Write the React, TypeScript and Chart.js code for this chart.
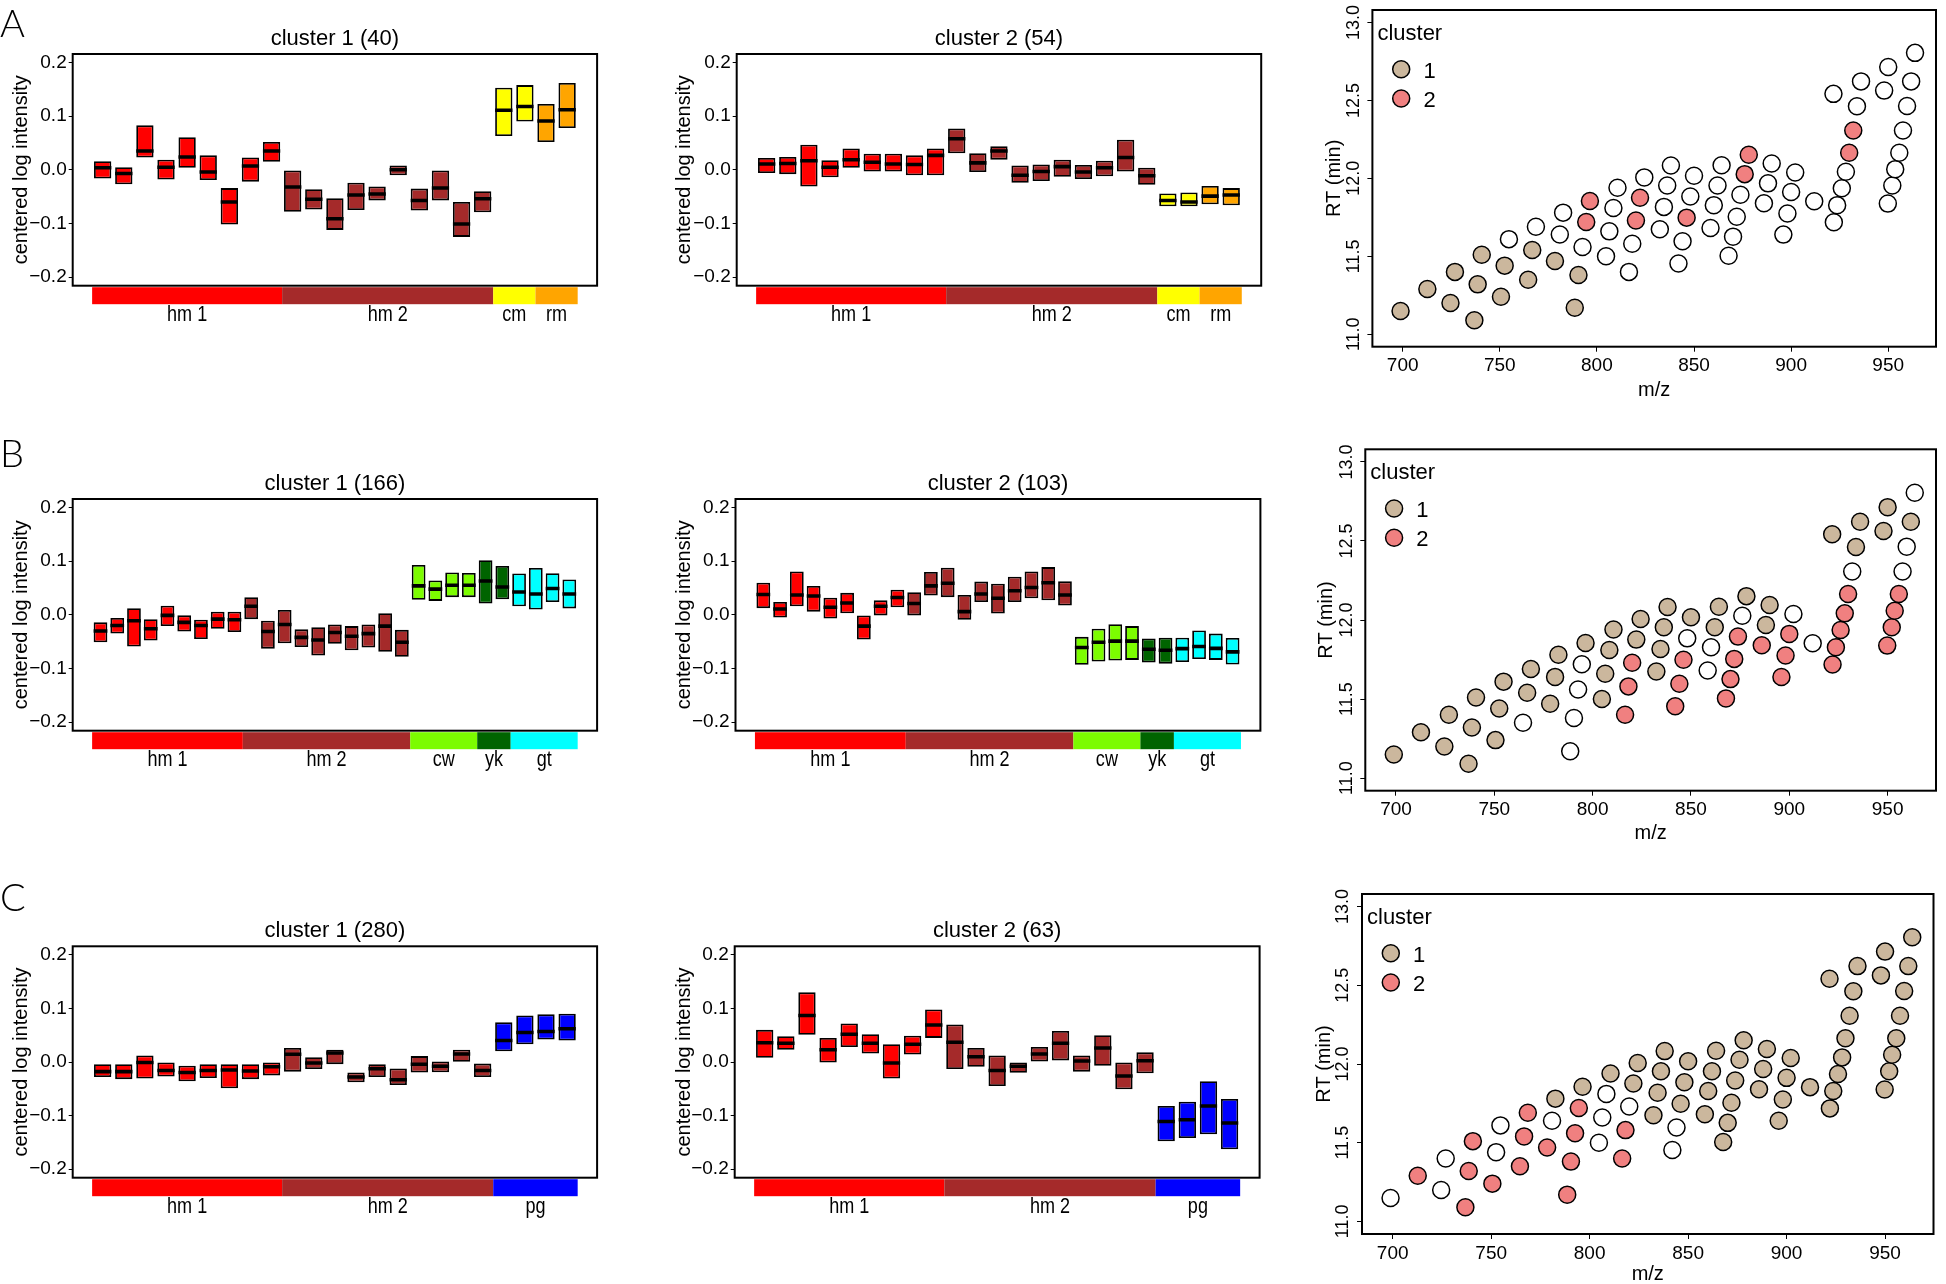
import React, { useEffect, useRef } from 'react';
import { Chart, registerables } from 'chart.js';

Chart.register(...registerables);

const FONT = '"Liberation Sans", Arial, Helvetica, sans-serif';
Chart.defaults.font.family = FONT;
Chart.defaults.color = '#000';

// ---------------- box-plot panels ----------------
const INTENSITY_TICKS = [-0.2, -0.1, 0, 0.1, 0.2];
const INTENSITY_MIN = -0.216;
const INTENSITY_MAX = 0.216;

const GROUPS_A = ['hm 1', 'hm 2', 'cm', 'rm'];
const SIZES_A = [9, 10, 2, 2];
const GROUPS_B = ['hm 1', 'hm 2', 'cw', 'yk', 'gt'];
const SIZES_B = [9, 10, 4, 2, 4];
const GROUPS_C = ['hm 1', 'hm 2', 'pg'];
const SIZES_C = [9, 10, 4];

const GROUP_COLORS: Record<string, string> = {
  'hm 1': '#FF0000',
  'hm 2': '#A52A2A',
  cm: '#FFFF00',
  rm: '#FFA500',
  cw: '#7CFC00',
  yk: '#006400',
  gt: '#00FFFF',
  pg: '#0000FF',
};

// A: cluster 1 (40)
const A1_Q3 = [0.016, 0.005, 0.083, 0.019, 0.061, 0.027, -0.034, 0.023, 0.052, -0.001, -0.036, -0.053, -0.024, -0.031, 0.008, -0.035, -0.001, -0.060, -0.040, 0.153, 0.158, 0.123, 0.162];
const A1_MED = [0.004, -0.007, 0.035, 0.005, 0.024, -0.004, -0.060, 0.007, 0.035, -0.032, -0.055, -0.091, -0.047, -0.045, 0.000, -0.057, -0.034, -0.101, -0.054, 0.111, 0.118, 0.091, 0.112];
const A1_Q1 = [-0.016, -0.027, 0.023, -0.018, 0.004, -0.019, -0.102, -0.022, 0.015, -0.078, -0.074, -0.112, -0.075, -0.057, -0.010, -0.076, -0.057, -0.125, -0.079, 0.063, 0.090, 0.052, 0.078];
// A: cluster 2 (54)
const A2_Q3 = [0.022, 0.024, 0.047, 0.018, 0.040, 0.030, 0.030, 0.027, 0.040, 0.077, 0.031, 0.044, 0.008, 0.010, 0.019, 0.009, 0.017, 0.056, 0.004, -0.044, -0.042, -0.030, -0.034];
const A2_MED = [0.011, 0.012, 0.017, 0.005, 0.019, 0.014, 0.011, 0.010, 0.027, 0.058, 0.013, 0.035, -0.010, -0.003, 0.006, -0.004, 0.004, 0.023, -0.011, -0.057, -0.060, -0.049, -0.047];
const A2_Q1 = [-0.006, -0.008, -0.031, -0.014, 0.004, -0.003, -0.003, -0.010, -0.010, 0.031, -0.004, 0.019, -0.024, -0.021, -0.013, -0.017, -0.012, -0.003, -0.028, -0.068, -0.068, -0.064, -0.066];
// B: cluster 1 (166)
const B1_Q3 = [-0.014, -0.006, 0.0125, -0.008, 0.017, 0.000, -0.009, 0.006, 0.006, 0.033, -0.011, 0.009, -0.027, -0.023, -0.018, -0.021, -0.018, 0.003, -0.028, 0.093, 0.064, 0.079, 0.078, 0.102, 0.091, 0.077, 0.0875, 0.0775, 0.066];
const B1_MED = [-0.030, -0.020, -0.011, -0.026, -0.001, -0.014, -0.020, -0.008, -0.009, 0.016, -0.031, -0.018, -0.042, -0.047, -0.033, -0.040, -0.035, -0.021, -0.051, 0.054, 0.048, 0.055, 0.055, 0.063, 0.052, 0.0425, 0.039, 0.049, 0.039];
const B1_Q1 = [-0.051, -0.035, -0.059, -0.048, -0.021, -0.031, -0.045, -0.026, -0.032, -0.008, -0.063, -0.053, -0.060, -0.076, -0.054, -0.066, -0.061, -0.069, -0.078, 0.028, 0.026, 0.033, 0.033, 0.021, 0.029, 0.016, 0.010, 0.024, 0.012];
// B: cluster 2 (103)
const B2_Q3 = [0.060, 0.024, 0.081, 0.054, 0.032, 0.041, -0.001, 0.027, 0.047, 0.042, 0.080, 0.088, 0.037, 0.062, 0.058, 0.071, 0.081, 0.089, 0.0625, -0.041, -0.026, -0.0175, -0.021, -0.044, -0.0425, -0.0425, -0.029, -0.035, -0.043];
const B2_MED = [0.038, 0.011, 0.037, 0.035, 0.014, 0.022, -0.021, 0.016, 0.0325, 0.021, 0.054, 0.059, 0.006, 0.039, 0.031, 0.045, 0.051, 0.060, 0.037, -0.061, -0.051, -0.049, -0.049, -0.064, -0.066, -0.063, -0.059, -0.0625, -0.069];
const B2_Q1 = [0.0125, -0.005, 0.016, 0.006, -0.007, 0.003, -0.046, -0.001, 0.014, -0.001, 0.036, 0.033, -0.009, 0.024, 0.0025, 0.024, 0.031, 0.027, 0.0175, -0.093, -0.087, -0.085, -0.084, -0.089, -0.091, -0.088, -0.0825, -0.084, -0.0925];
// C: cluster 1 (280)
const C1_Q3 = [-0.004, -0.004, 0.012, 0.000, -0.007, -0.004, -0.004, -0.004, -0.001, 0.026, 0.009, 0.023, -0.0195, -0.004, -0.012, 0.011, 0.001, 0.023, -0.003, 0.074, 0.087, 0.089, 0.090];
const C1_MED = [-0.018, -0.018, -0.001, -0.016, -0.0195, -0.016, -0.015, -0.017, -0.009, 0.0145, -0.002, 0.017, -0.028, -0.0126, -0.033, -0.0044, -0.008, 0.015, -0.016, 0.040, 0.055, 0.057, 0.062];
const C1_Q1 = [-0.028, -0.032, -0.031, -0.027, -0.036, -0.030, -0.049, -0.032, -0.025, -0.018, -0.013, -0.004, -0.038, -0.028, -0.043, -0.0195, -0.019, 0.0006, -0.028, 0.020, 0.033, 0.042, 0.040];
// C: cluster 2 (63)
const C2_Q3 = [0.060, 0.048, 0.130, 0.045, 0.072, 0.052, 0.033, 0.049, 0.098, 0.070, 0.026, 0.012, 0.000, 0.028, 0.058, 0.012, 0.050, 0.000, 0.018, -0.082, -0.074, -0.036, -0.069];
const C2_MED = [0.036, 0.035, 0.087, 0.023, 0.052, 0.035, -0.002, 0.033, 0.069, 0.037, 0.010, -0.016, -0.008, 0.015, 0.035, 0.002, 0.026, -0.026, 0.0025, -0.111, -0.108, -0.082, -0.114];
const C2_Q1 = [0.008, 0.023, 0.051, -0.001, 0.028, 0.016, -0.031, 0.014, 0.045, -0.013, -0.009, -0.045, -0.020, 0.001, 0.003, -0.018, -0.007, -0.051, -0.021, -0.148, -0.142, -0.135, -0.163];

// ---------------- scatter panels (m/z vs RT) ----------------
const MZ = [698.9, 712.7, 726.9, 724.6, 736.9, 738.6, 740.7, 750.6, 752.5, 754.7, 764.6, 766.7, 768.6, 778.4, 780.9, 782.6, 790.5, 788.6, 792.6, 794.5, 796.4, 804.7, 806.4, 808.5, 810.6, 816.5, 818.2, 820.1, 822.2, 824.4, 832.4, 834.5, 836.2, 838.1, 842.0, 844.1, 846.2, 848.1, 850.0, 858.5, 860.2, 862.1, 864.2, 867.8, 870.1, 872.0, 873.9, 876.1, 878.2, 886.0, 888.1, 890.0, 896.0, 898.1, 900.0, 902.1, 911.9, 922.0, 923.7, 926.1, 928.2, 929.9, 932.0, 933.9, 936.0, 921.8, 947.9, 950.0, 949.8, 952.1, 953.6, 955.7, 957.6, 959.7, 961.8, 963.8];
const RT = [11.149, 11.29, 11.40, 11.20, 11.09, 11.32, 11.51, 11.24, 11.44, 11.61, 11.35, 11.54, 11.69, 11.47, 11.64, 11.78, 11.38, 11.17, 11.56, 11.72, 11.855, 11.50, 11.66, 11.81, 11.94, 11.40, 11.58, 11.73, 11.876, 12.006, 11.674, 11.817, 11.954, 12.082, 11.454, 11.597, 11.748, 11.884, 12.017, 11.681, 11.828, 11.954, 12.084, 11.504, 11.626, 11.754, 11.895, 12.027, 12.151, 11.840, 11.968, 12.095, 11.639, 11.775, 11.912, 12.038, 11.853, 11.718, 11.828, 11.937, 12.042, 12.164, 12.307, 12.462, 12.622, 12.542, 12.563, 12.714, 11.838, 11.954, 12.059, 12.164, 12.307, 12.464, 12.622, 12.805];
// cluster membership per point (0 = not in a cluster)
const CLUSTER_A = [1, 1, 1, 1, 1, 1, 1, 1, 1, 0, 1, 1, 0, 1, 0, 0, 1, 1, 0, 2, 2, 0, 0, 0, 0, 0, 0, 2, 2, 0, 0, 0, 0, 0, 0, 0, 2, 0, 0, 0, 0, 0, 0, 0, 0, 0, 0, 2, 2, 0, 0, 0, 0, 0, 0, 0, 0, 0, 0, 0, 0, 2, 2, 0, 0, 0, 0, 0, 0, 0, 0, 0, 0, 0, 0, 0];
const CLUSTER_B = [1, 1, 1, 1, 1, 1, 1, 1, 1, 1, 0, 1, 1, 1, 1, 1, 0, 0, 0, 0, 1, 1, 1, 1, 1, 2, 2, 2, 1, 1, 1, 1, 1, 1, 2, 2, 2, 0, 1, 0, 0, 1, 1, 2, 2, 2, 2, 0, 1, 2, 1, 1, 2, 2, 2, 0, 0, 2, 2, 2, 2, 2, 0, 1, 1, 1, 1, 1, 2, 2, 2, 2, 0, 0, 1, 0];
const CLUSTER_C = [0, 2, 0, 0, 2, 2, 2, 2, 0, 0, 2, 2, 2, 2, 0, 1, 2, 2, 2, 2, 1, 0, 0, 0, 1, 2, 2, 0, 1, 1, 1, 1, 1, 1, 0, 0, 1, 1, 1, 1, 1, 1, 1, 1, 1, 1, 1, 1, 1, 1, 1, 1, 1, 1, 1, 1, 1, 1, 1, 1, 1, 1, 1, 1, 1, 1, 1, 1, 1, 1, 1, 1, 1, 1, 1, 1];

const MZ_TICKS = [700, 750, 800, 850, 900, 950];
const RT_TICKS = [11.0, 11.5, 12.0, 12.5, 13.0];
const MZ_MIN = 684.4;
const MZ_MAX = 974.6;
const RT_MIN = 10.92;
const RT_MAX = 13.08;

const LEGEND_TITLE = 'cluster';
const LEGEND_LABELS = ['1', '2'];
const CLUSTER_COLORS = ['#FFFFFF', '#CBB79D', '#F08080'];

// ---------------- styling constants ----------------
const MED_HALF = 0.0033;
const POINT_R = 8.5;

function fmtIntensity(v: number) {
  const x = Math.abs(v) < 1e-9 ? 0 : v;
  return x.toFixed(1).replace('-', '\u2212');
}

const framePlugin = {
  id: 'frame',
  afterDraw(chart: any) {
    const { ctx, chartArea: a } = chart;
    ctx.save();
    ctx.strokeStyle = '#000';
    ctx.lineWidth = 2;
    ctx.strokeRect(a.left, a.top, a.right - a.left, a.bottom - a.top);
    ctx.restore();
  },
};

type BoxProps = {
  left: number; top: number; width: number; height: number;
  frame: number[]; title: string; groups: string[]; sizes: number[];
  q1: number[]; med: number[]; q3: number[];
  letter?: string; letterBaseline?: number; yTitleX: number;
};

function BoxPanel(p: BoxProps) {
  const ref = useRef<HTMLCanvasElement>(null);
  useEffect(() => {
    const n = p.med.length;
    const colors: string[] = [];
    p.groups.forEach((g, k) => {
      for (let i = 0; i < p.sizes[k]; i++) colors.push(GROUP_COLORS[g]);
    });
    const idx = p.med.map((_, i) => i);
    const cl = p.frame[0] - p.left;
    const cr = p.frame[1] - p.left;
    const ct = p.frame[2] - p.top;
    const cb = p.frame[3] - p.top;

    const decor = {
      id: 'boxDecor',
      afterDraw(chart: any) {
        const { ctx, chartArea: a } = chart;
        const xs = chart.scales.x;
        ctx.save();
        ctx.fillStyle = '#000';
        ctx.textBaseline = 'alphabetic';
        ctx.textAlign = 'center';
        ctx.font = `22px ${FONT}`;
        ctx.fillText(p.title, (a.left + a.right) / 2, a.top - 9);
        let start = 0;
        p.groups.forEach((g, k) => {
          const x0 = xs.getPixelForValue(start - 0.5);
          const x1 = xs.getPixelForValue(start + p.sizes[k] - 0.5);
          ctx.fillStyle = GROUP_COLORS[g];
          ctx.fillRect(x0, a.bottom + 1.5, x1 - x0, 17);
          ctx.save();
          ctx.fillStyle = '#000';
          ctx.translate((x0 + x1) / 2, a.bottom + 35);
          ctx.scale(0.82, 1);
          ctx.font = `22px ${FONT}`;
          ctx.textAlign = 'center';
          ctx.fillText(g, 0, 0);
          ctx.restore();
          start += p.sizes[k];
        });
        if (p.letter) {
          ctx.fillStyle = '#000';
          ctx.textAlign = 'left';
          ctx.font = `300 38px Lato, ${FONT}`;
          ctx.fillText(p.letter, 0, (p.letterBaseline as number) - p.top);
        }
        ctx.restore();
      },
    };

    const chart = new Chart(ref.current as HTMLCanvasElement, {
      type: 'bar',
      data: {
        datasets: [
          {
            data: idx.map((i) => ({ x: i, y: [p.q1[i], p.q3[i]] })),
            backgroundColor: colors,
            borderColor: '#000',
            borderWidth: 1.8,
            borderSkipped: false,
            grouped: false,
            barPercentage: 0.82,
            categoryPercentage: 1,
            order: 2,
          },
          {
            data: idx.map((i) => ({ x: i, y: [p.med[i] - MED_HALF, p.med[i] + MED_HALF] })),
            backgroundColor: '#000',
            borderWidth: 0,
            grouped: false,
            barPercentage: 0.82,
            categoryPercentage: 1,
            order: 1,
          },
        ],
      } as any,
      options: {
        responsive: false,
        animation: false,
        events: [],
        layout: { padding: { left: 0, top: ct, right: p.width - cr, bottom: p.height - cb } },
        plugins: { legend: { display: false }, tooltip: { enabled: false }, title: { display: false } },
        scales: {
          x: {
            type: 'linear',
            display: false,
            offset: false,
            bounds: 'data',
            min: -0.5 - 0.04 * n,
            max: n - 0.5 + 0.04 * n,
            afterBuildTicks: (s: any) => { s.ticks = idx.map((v) => ({ value: v })); },
            grid: { offset: false },
          },
          y: {
            type: 'linear',
            bounds: 'data',
            min: INTENSITY_MIN,
            max: INTENSITY_MAX,
            afterBuildTicks: (s: any) => { s.ticks = INTENSITY_TICKS.map((v) => ({ value: v })); },
            afterFit: (s: any) => { s.width = cl; },
            ticks: {
              color: '#000',
              padding: 2,
              font: { family: FONT, size: 19 },
              callback: (v: any) => fmtIntensity(Number(v)),
            },
            grid: { drawOnChartArea: false, drawTicks: true, tickLength: 4, color: '#000', lineWidth: 1 },
            border: { display: false },
            title: {
              display: true,
              text: 'centered log intensity',
              color: '#000',
              font: { family: FONT, size: 20, lineHeight: 1 },
              padding: { top: p.yTitleX - 10, bottom: 0 },
            },
          },
        },
      } as any,
      plugins: [framePlugin, decor],
    });
    return () => chart.destroy();
  }, []);
  return (
    <canvas
      ref={ref}
      width={p.width}
      height={p.height}
      style={{ position: 'absolute', left: p.left, top: p.top, width: p.width, height: p.height }}
    />
  );
}

type ScatterProps = {
  left: number; top: number; width: number; height: number;
  frame: number[]; clusters: number[]; yTitleX: number;
};

function ScatterPanel(p: ScatterProps) {
  const ref = useRef<HTMLCanvasElement>(null);
  useEffect(() => {
    const cl = p.frame[0] - p.left;
    const cr = p.frame[1] - p.left;
    const ct = p.frame[2] - p.top;
    const cb = p.frame[3] - p.top;
    const pts = (c: number) =>
      MZ.map((x, i) => ({ x, y: RT[i], c: p.clusters[i] })).filter((d) => d.c === c).map((d) => ({ x: d.x, y: d.y }));

    const legend = {
      id: 'clusterLegend',
      afterDatasetsDraw(chart: any) {
        const { ctx, chartArea: a } = chart;
        ctx.save();
        ctx.fillStyle = '#000';
        ctx.textAlign = 'left';
        ctx.textBaseline = 'alphabetic';
        ctx.font = `22px ${FONT}`;
        ctx.fillText(LEGEND_TITLE, a.left + 5, a.top + 30);
        LEGEND_LABELS.forEach((lab, k) => {
          const cy = a.top + 59.2 + k * 29.3;
          ctx.beginPath();
          ctx.arc(a.left + 28.8, cy, POINT_R, 0, Math.PI * 2);
          ctx.fillStyle = CLUSTER_COLORS[k + 1];
          ctx.fill();
          ctx.lineWidth = 1.5;
          ctx.strokeStyle = '#000';
          ctx.stroke();
          ctx.fillStyle = '#000';
          ctx.fillText(lab, a.left + 51, cy + 8.5);
        });
        ctx.restore();
      },
    };

    const chart = new Chart(ref.current as HTMLCanvasElement, {
      type: 'scatter',
      data: {
        datasets: [0, 1, 2].map((c) => ({
          data: pts(c),
          backgroundColor: CLUSTER_COLORS[c],
          borderColor: '#000',
          borderWidth: 1.5,
          pointRadius: POINT_R,
          pointHoverRadius: POINT_R,
          order: 3 - c,
        })),
      } as any,
      options: {
        responsive: false,
        animation: false,
        events: [],
        layout: { padding: { left: 0, top: ct, right: p.width - cr, bottom: 0 } },
        plugins: { legend: { display: false }, tooltip: { enabled: false } },
        scales: {
          x: {
            type: 'linear',
            bounds: 'data',
            min: MZ_MIN,
            max: MZ_MAX,
            afterBuildTicks: (s: any) => { s.ticks = MZ_TICKS.map((v) => ({ value: v })); },
            afterFit: (s: any) => { s.height = p.height - cb; },
            ticks: { color: '#000', padding: 3, font: { family: FONT, size: 19 }, callback: (v: any) => String(v) },
            grid: { drawOnChartArea: false, drawTicks: true, tickLength: 5, color: '#000' },
            border: { display: false },
            title: { display: true, text: 'm/z', color: '#000', font: { family: FONT, size: 20, lineHeight: 1 }, padding: { top: 0, bottom: 0 } },
          },
          y: {
            type: 'linear',
            bounds: 'data',
            min: RT_MIN,
            max: RT_MAX,
            afterBuildTicks: (s: any) => { s.ticks = RT_TICKS.map((v) => ({ value: v })); },
            afterFit: (s: any) => { s.width = cl; },
            ticks: {
              color: '#000',
              padding: -4,
              minRotation: 90,
              maxRotation: 90,
              crossAlign: 'center',
              font: { family: FONT, size: 18, lineHeight: 1 },
              callback: (v: any) => Number(v).toFixed(1),
            },
            grid: { drawOnChartArea: false, drawTicks: true, tickLength: 5, color: '#000' },
            border: { display: false },
            title: {
              display: true,
              text: 'RT (min)',
              color: '#000',
              font: { family: FONT, size: 20, lineHeight: 1 },
              padding: { top: p.yTitleX - 10, bottom: 0 },
            },
          },
        },
      } as any,
      plugins: [framePlugin, legend],
    });
    return () => chart.destroy();
  }, []);
  return (
    <canvas
      ref={ref}
      width={p.width}
      height={p.height}
      style={{ position: 'absolute', left: p.left, top: p.top, width: p.width, height: p.height }}
    />
  );
}

export default function App() {
  useEffect(() => {
    document.documentElement.style.overflow = 'hidden';
    document.body.style.overflow = 'hidden';
  }, []);
  return (
    <div style={{ position: 'absolute', left: 0, top: 0, width: 1946, height: 1284, overflow: 'hidden', background: '#fff' }}>
      {/* Row A */}
      <BoxPanel left={0} top={0} width={625} height={340} frame={[72.7, 597.1, 54, 285.7]} title="cluster 1 (40)"
        groups={GROUPS_A} sizes={SIZES_A} q1={A1_Q1} med={A1_MED} q3={A1_Q3} letter="A" letterBaseline={36.7} yTitleX={21.5} />
      <BoxPanel left={630} top={0} width={640} height={340} frame={[736.7, 1261.2, 54, 285.7]} title="cluster 2 (54)"
        groups={GROUPS_A} sizes={SIZES_A} q1={A2_Q1} med={A2_MED} q3={A2_Q3} yTitleX={54} />
      <ScatterPanel left={1290} top={0} width={656} height={400} frame={[1372.4, 1944.8, 6, 346.7]} clusters={CLUSTER_A} yTitleX={44} />

      {/* Row B */}
      <BoxPanel left={0} top={430} width={625} height={350} frame={[72.7, 597.1, 499, 730.7]} title="cluster 1 (166)"
        groups={GROUPS_B} sizes={SIZES_B} q1={B1_Q1} med={B1_MED} q3={B1_Q3} letter="B" letterBaseline={466.7} yTitleX={21.5} />
      <BoxPanel left={630} top={430} width={640} height={350} frame={[735.5, 1260.4, 499, 730.7]} title="cluster 2 (103)"
        groups={GROUPS_B} sizes={SIZES_B} q1={B2_Q1} med={B2_MED} q3={B2_Q3} yTitleX={54} />
      <ScatterPanel left={1290} top={430} width={656} height={413} frame={[1365.3, 1939.4, 449.3, 790.7]} clusters={CLUSTER_B} yTitleX={36} />

      {/* Row C */}
      <BoxPanel left={0} top={875} width={625} height={370} frame={[72.7, 597.1, 946.3, 1177.7]} title="cluster 1 (280)"
        groups={GROUPS_C} sizes={SIZES_C} q1={C1_Q1} med={C1_MED} q3={C1_Q3} letter="C" letterBaseline={911} yTitleX={21.5} />
      <BoxPanel left={630} top={875} width={640} height={370} frame={[734.7, 1259.6, 946.3, 1177.7]} title="cluster 2 (63)"
        groups={GROUPS_C} sizes={SIZES_C} q1={C2_Q1} med={C2_MED} q3={C2_Q3} yTitleX={54} />
      <ScatterPanel left={1290} top={880} width={656} height={404} frame={[1362, 1933.5, 894, 1234]} clusters={CLUSTER_C} yTitleX={34} />
    </div>
  );
}
